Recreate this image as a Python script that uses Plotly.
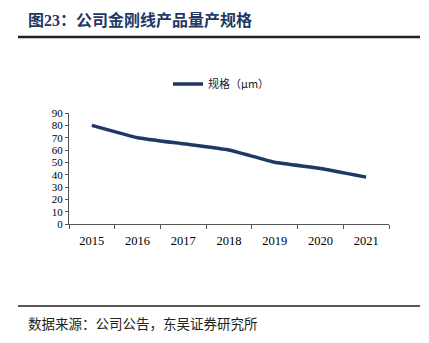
import plotly.graph_objects as go

years = ["2015", "2016", "2017", "2018", "2019", "2020", "2021"]
spec_um = [80, 70, 65, 60, 50, 45, 38]
series_name = "规格（μm）"
title_text = "图23：公司金刚线产品量产规格"
source_text = "数据来源：公司公告，东吴证券研究所"

W, H = 429, 343
L, R, T, B = 69, 389, 113, 224

def px(x):
    return (x - L) / (R - L)

def py(y):
    return (B - y) / (B - T)

font_main = "Liberation Serif, Times New Roman, Noto Sans CJK SC, serif"
line_color = "#1F3864"

fig = go.Figure()
fig.add_trace(go.Scatter(
    x=years, y=spec_um, mode="lines", name=series_name,
    line=dict(color=line_color, width=3.5, shape="spline", smoothing=0.3),
))

fig.update_layout(
    width=W, height=H,
    margin=dict(l=L, r=W - R, t=T, b=H - B, pad=0),
    paper_bgcolor="white", plot_bgcolor="white",
    font=dict(family=font_main, size=13, color="#000000"),
    showlegend=True,
    legend=dict(
        orientation="h", x=px(168), y=py(84), xanchor="left", yanchor="middle",
        font=dict(size=11, family="Noto Sans CJK SC, Liberation Serif", color="#222"),
        bgcolor="rgba(0,0,0,0)", itemwidth=30,
    ),
    xaxis=dict(
        type="category", tickson="boundaries", showgrid=False,
        range=[-0.5, len(years) - 0.5],
        showline=True, linecolor="#555", linewidth=1,
        ticks="outside", ticklen=4, tickcolor="#555",
        ticklabelstandoff=5,
        tickfont=dict(size=12.5, family=font_main), fixedrange=True,
    ),
    yaxis=dict(
        range=[0, 90], dtick=10, showgrid=False, zeroline=False,
        showline=True, linecolor="#555", linewidth=1,
        ticks="outside", ticklen=3, tickcolor="#555",
        tickfont=dict(size=11, family=font_main), fixedrange=True,
    ),
)

fig.add_annotation(
    xref="paper", yref="paper", x=px(26), y=py(20), xanchor="left", yanchor="middle",
    text="<b>" + title_text + "</b>", showarrow=False,
    font=dict(size=16, color="#1F3864", family="Liberation Serif, Noto Sans CJK SC, serif"),
)
fig.add_annotation(
    xref="paper", yref="paper", x=px(26), y=py(323), xanchor="left", yanchor="middle",
    text=source_text, showarrow=False,
    font=dict(size=13.5, color="#222", family="Noto Sans CJK SC, serif"),
)
fig.add_shape(type="line", xref="paper", yref="paper",
              x0=px(18), x1=px(420), y0=py(37), y1=py(37),
              line=dict(color="#222", width=2.5))
fig.add_shape(type="line", xref="paper", yref="paper",
              x0=px(18), x1=px(420), y0=py(306), y1=py(306),
              line=dict(color="#222", width=1.5))

fig.write_html("out.html")
